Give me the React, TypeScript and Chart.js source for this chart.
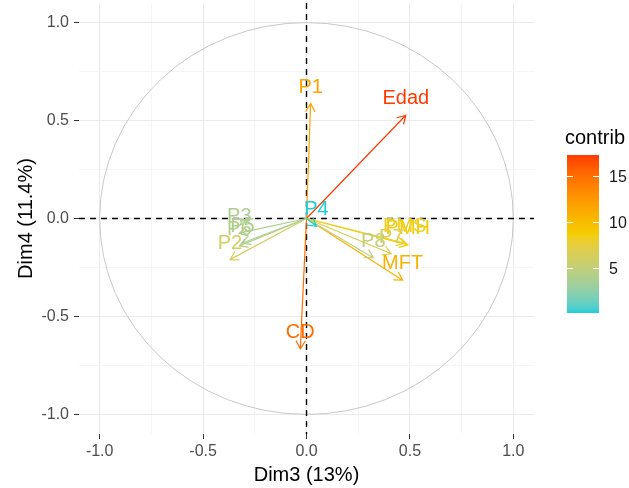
import { useEffect, useRef } from "react";
import { Chart, registerables } from "chart.js";

Chart.register(...registerables);

const FONT = "Arial, 'Liberation Sans', Helvetica, sans-serif";

// PCA variables (Dim3 / Dim4 coordinates) and their contributions
const variables = ["Edad", "CD", "P1", "MFT", "PMH", "PMS", "P7", "P2", "P8", "P3", "P6", "P5", "P4"];
const dim3 = [0.48, -0.03, 0.02, 0.465, 0.49, 0.475, 0.41, -0.37, 0.323, -0.325, -0.325, -0.31, 0.048];
const dim4 = [0.527, -0.665, 0.587, -0.315, -0.135, -0.125, -0.18, -0.21, -0.2, -0.075, -0.14, -0.125, -0.04];
const contrib = [17.3, 15.0, 11.7, 10.7, 8.8, 8.2, 6.8, 6.2, 4.9, 3.8, 4.3, 3.8, 0.1];

const axisTicks = [-1, -0.75, -0.5, -0.25, 0, 0.25, 0.5, 0.75, 1];
const majorTicks = [-1, -0.5, 0, 0.5, 1];
const legendTicks = [5, 10, 15];
const gradientColors = ["#19CFD6", "#F4CE00", "#FF3A00"];

const xTitle = "Dim3 (13%)";
const yTitle = "Dim4 (11.4%)";
const legendTitle = "contrib";

const isMajor = (v: number) => majorTicks.some((m) => Math.abs(m - v) < 1e-9);

// --- colour ramp in CIELAB (like ggplot's gradientn) ---
function hexToRgb(h: string) {
  const n = parseInt(h.slice(1), 16);
  return [(n >> 16) & 255, (n >> 8) & 255, n & 255];
}
const toLin = (c: number) => {
  c /= 255;
  return c <= 0.04045 ? c / 12.92 : Math.pow((c + 0.055) / 1.055, 2.4);
};
const fromLin = (c: number) => {
  const v = c <= 0.0031308 ? 12.92 * c : 1.055 * Math.pow(c, 1 / 2.4) - 0.055;
  return Math.max(0, Math.min(255, Math.round(v * 255)));
};
const Xn = 0.95047, Yn = 1.0, Zn = 1.08883;
const fLab = (t: number) => (t > 216 / 24389 ? Math.cbrt(t) : (24389 / 27 * t + 16) / 116);
const fInv = (t: number) => (t * t * t > 216 / 24389 ? t * t * t : (116 * t - 16) / (24389 / 27));
function rgbToLab(rgb: number[]) {
  const [r, g, b] = rgb.map(toLin);
  const X = r * 0.4124 + g * 0.3576 + b * 0.1805;
  const Y = r * 0.2126 + g * 0.7152 + b * 0.0722;
  const Z = r * 0.0193 + g * 0.1192 + b * 0.9505;
  const fx = fLab(X / Xn), fy = fLab(Y / Yn), fz = fLab(Z / Zn);
  return [116 * fy - 16, 500 * (fx - fy), 200 * (fy - fz)];
}
function labToRgb(lab: number[]) {
  const fy = (lab[0] + 16) / 116;
  const fx = fy + lab[1] / 500;
  const fz = fy - lab[2] / 200;
  const X = fInv(fx) * Xn, Y = fInv(fy) * Yn, Z = fInv(fz) * Zn;
  const r = X * 3.2406 + Y * -1.5372 + Z * -0.4986;
  const g = X * -0.9689 + Y * 1.8758 + Z * 0.0415;
  const b = X * 0.0557 + Y * -0.204 + Z * 1.057;
  return [fromLin(r), fromLin(g), fromLin(b)];
}
const labStops = gradientColors.map((c) => rgbToLab(hexToRgb(c)));
const cMin = Math.min(...contrib);
const cMax = Math.max(...contrib);
function rampColor(t: number) {
  t = Math.max(0, Math.min(1, t));
  const seg = t < 0.5 ? 0 : 1;
  const lt = t < 0.5 ? t / 0.5 : (t - 0.5) / 0.5;
  const a = labStops[seg], b = labStops[seg + 1];
  const c = labToRgb(a.map((av, i) => av + (b[i] - av) * lt));
  return `rgb(${c[0]},${c[1]},${c[2]})`;
}
const colorFor = (v: number) => rampColor((v - cMin) / (cMax - cMin));

const pcaPlugin = {
  id: "pcaPlugin",
  beforeDatasetsDraw(chart: any) {
    const { ctx, chartArea, scales } = chart;
    const x = scales.x, y = scales.y;
    ctx.save();
    ctx.beginPath();
    ctx.rect(chartArea.left, chartArea.top, chartArea.right - chartArea.left, chartArea.bottom - chartArea.top);
    ctx.clip();
    const cx = x.getPixelForValue(0);
    const cy = y.getPixelForValue(0);
    const rx = x.getPixelForValue(1) - cx;
    const ry = cy - y.getPixelForValue(1);
    ctx.beginPath();
    ctx.ellipse(cx, cy, rx, ry, 0, 0, Math.PI * 2);
    ctx.strokeStyle = "#c8c8c8";
    ctx.lineWidth = 1;
    ctx.stroke();
    ctx.setLineDash([6, 5]);
    ctx.strokeStyle = "#000000";
    ctx.lineWidth = 1.4;
    ctx.beginPath();
    ctx.moveTo(chartArea.left, cy);
    ctx.lineTo(chartArea.right, cy);
    ctx.moveTo(cx, chartArea.top);
    ctx.lineTo(cx, chartArea.bottom);
    ctx.stroke();
    ctx.restore();
  },
  afterDatasetsDraw(chart: any) {
    const { ctx, scales } = chart;
    const x = scales.x, y = scales.y;
    const cx = x.getPixelForValue(0);
    const cy = y.getPixelForValue(0);
    ctx.save();
    ctx.lineCap = "round";
    variables.forEach((_, i) => {
      const px = x.getPixelForValue(dim3[i]);
      const py = y.getPixelForValue(dim4[i]);
      ctx.strokeStyle = colorFor(contrib[i]);
      ctx.lineWidth = 1.2;
      ctx.beginPath();
      ctx.moveTo(cx, cy);
      ctx.lineTo(px, py);
      const ang = Math.atan2(py - cy, px - cx);
      const L = 9;
      const spread = Math.PI / 6;
      ctx.moveTo(px - L * Math.cos(ang - spread), py - L * Math.sin(ang - spread));
      ctx.lineTo(px, py);
      ctx.lineTo(px - L * Math.cos(ang + spread), py - L * Math.sin(ang + spread));
      ctx.stroke();
    });
    ctx.font = `20px ${FONT}`;
    ctx.textAlign = "center";
    ctx.textBaseline = "alphabetic";
    variables.forEach((name, i) => {
      const px = x.getPixelForValue(dim3[i]);
      const py = y.getPixelForValue(dim4[i]);
      ctx.fillStyle = colorFor(contrib[i]);
      ctx.fillText(name, px, py - 11);
    });
    ctx.restore();
  },
  afterDraw(chart: any) {
    const { ctx } = chart;
    const barL = 567, barR = 599, barT = 155, barB = 313;
    ctx.save();
    ctx.font = `20px ${FONT}`;
    ctx.fillStyle = "#000000";
    ctx.textAlign = "left";
    ctx.textBaseline = "alphabetic";
    ctx.fillText(legendTitle, 565, 144);
    const g = ctx.createLinearGradient(0, barB, 0, barT);
    for (let k = 0; k <= 40; k++) g.addColorStop(k / 40, rampColor(k / 40));
    ctx.fillStyle = g;
    ctx.fillRect(barL, barT, barR - barL, barB - barT);
    ctx.strokeStyle = "#ffffff";
    ctx.lineWidth = 1;
    ctx.font = `16px ${FONT}`;
    ctx.textBaseline = "middle";
    legendTicks.forEach((v) => {
      const ty = Math.round(barB - ((v - cMin) / (cMax - cMin)) * (barB - barT)) + 0.5;
      ctx.beginPath();
      ctx.moveTo(barL, ty);
      ctx.lineTo(barL + 6, ty);
      ctx.moveTo(barR - 6, ty);
      ctx.lineTo(barR, ty);
      ctx.stroke();
      ctx.fillStyle = "#1a1a1a";
      ctx.fillText(String(v), 609, ty + 1);
    });
    ctx.restore();
  },
};

export default function App() {
  const ref = useRef<HTMLCanvasElement | null>(null);
  useEffect(() => {
    document.body.style.margin = "0";
    document.body.style.background = "#ffffff";
    if (!ref.current) return;
    const gridColor = (c: any) => (c.tick && isMajor(c.tick.value) ? "#ebebeb" : "#f5f5f5");
    const tickColor = (c: any) => (c.tick && isMajor(c.tick.value) ? "#333333" : "rgba(0,0,0,0)");
    const tickLabel = (v: any) => (isMajor(Number(v)) ? Number(v).toFixed(1) : "");
    const chart = new Chart(ref.current, {
      type: "scatter",
      data: {
        datasets: [
          {
            data: variables.map((_, i) => ({ x: dim3[i], y: dim4[i] })),
            pointRadius: 0,
            pointHoverRadius: 0,
          },
        ],
      },
      options: {
        animation: false,
        responsive: false,
        devicePixelRatio: 1,
        layout: { padding: { top: 3, right: 95, left: 0, bottom: 0 } },
        plugins: { legend: { display: false }, tooltip: { enabled: false } },
        scales: {
          x: {
            type: "linear",
            min: -1.1,
            max: 1.1,
            afterBuildTicks: (s: any) => {
              s.ticks = axisTicks.map((v) => ({ value: v }));
            },
            afterFit: (s: any) => {
              s.height = 54;
              s.paddingLeft = 0;
              s.paddingRight = 0;
            },
            border: { display: false },
            grid: { color: gridColor, lineWidth: 1, tickLength: 5, tickColor, drawTicks: true },
            ticks: {
              callback: tickLabel,
              autoSkip: false,
              maxRotation: 0,
              font: { size: 16, family: FONT },
              color: "#4d4d4d",
              padding: 3,
            },
            title: {
              display: true,
              text: xTitle,
              color: "#000000",
              font: { size: 20, family: FONT },
              padding: { top: 0, bottom: 1 },
            },
          },
          y: {
            type: "linear",
            min: -1.1,
            max: 1.1,
            afterBuildTicks: (s: any) => {
              s.ticks = axisTicks.map((v) => ({ value: v }));
            },
            afterFit: (s: any) => {
              s.width = 79;
              s.paddingTop = 0;
              s.paddingBottom = 0;
            },
            border: { display: false },
            grid: { color: gridColor, lineWidth: 1, tickLength: 5, tickColor, drawTicks: true },
            ticks: {
              callback: tickLabel,
              autoSkip: false,
              font: { size: 16, family: FONT },
              color: "#4d4d4d",
              padding: 5,
            },
            title: {
              display: true,
              text: yTitle,
              color: "#000000",
              font: { size: 20, family: FONT },
              padding: { top: 14, bottom: 0 },
            },
          },
        },
      },
      plugins: [pcaPlugin],
    } as any);
    return () => chart.destroy();
  }, []);
  return <canvas ref={ref} width={629} height={488} style={{ display: "block", width: 629, height: 488 }} />;
}
